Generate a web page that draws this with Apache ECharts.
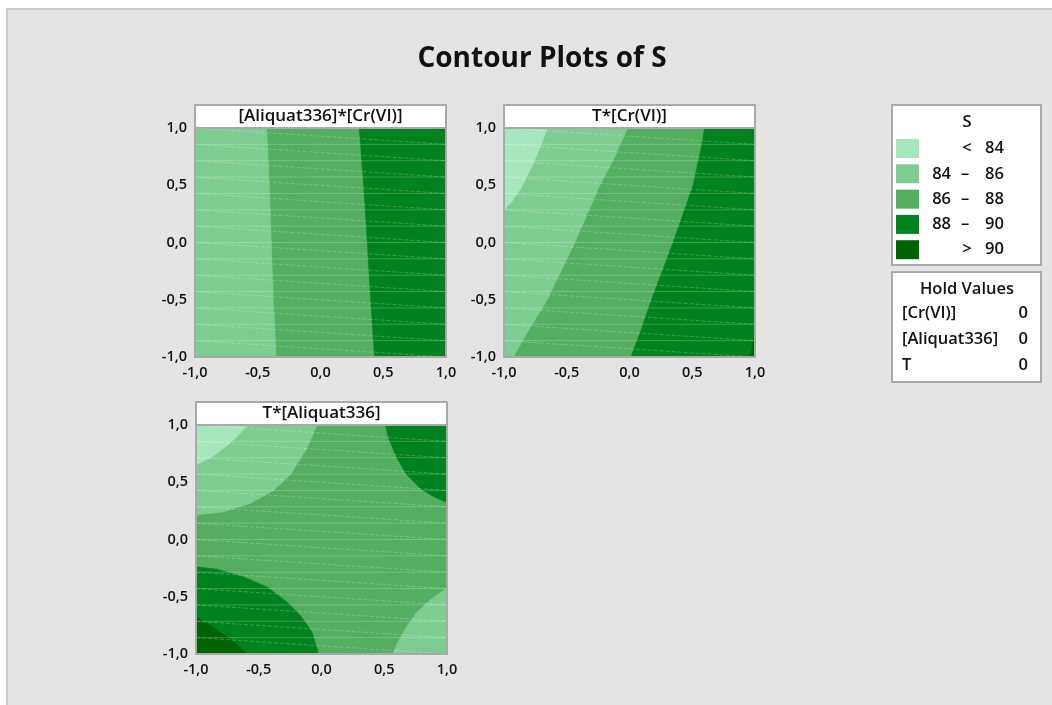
<!DOCTYPE html>
<html>
<head>
<meta charset="utf-8">
<title>Contour Plots of S</title>
<script src="https://cdn.jsdelivr.net/npm/echarts@6/dist/echarts.min.js"></script>
<style>
  html, body { margin: 0; padding: 0; background: #ffffff; }
  #chart { width: 1052px; height: 705px; }
</style>
</head>
<body>
<div id="chart"></div>
<script>
// ---- chart data -------------------------------------------------------
const chartTitle = 'Contour Plots of S';
const panelTitles = ['[Aliquat336]*[Cr(VI)]', 'T*[Cr(VI)]', 'T*[Aliquat336]'];
const tickValues = [-1, -0.5, 0, 0.5, 1];

// response levels of S (legend rows)
const levelLow  = ['', '84', '86', '88', ''];
const levelSign = ['<', '–', '–', '–', '>'];
const levelHigh = ['84', '86', '88', '90', '90'];

// hold values of the factors not on the axes
const holdFactors = ['[Cr(VI)]', '[Aliquat336]', 'T'];
const holdValues = [0, 0, 0];

// contour boundaries (x, y) per panel
// panel 1: [Aliquat336]*[Cr(VI)]
const p1_84_86 = [[-0.429, 1], [-0.408, 0.5], [-0.392, 0], [-0.376, -0.5], [-0.363, -0.75], [-0.355, -1]];
const p1_86_88 = [[0.309, 1], [0.344, 0.5], [0.373, 0], [0.400, -0.5], [0.418, -0.8], [0.432, -1]];
// panel 2: T*[Cr(VI)]
const p2_84 = [[-0.655, 1], [-0.70, 0.863], [-0.78, 0.66], [-0.859, 0.485], [-0.939, 0.354], [-1, 0.281]];
const p2_84_86 = [[-0.016, 1], [-0.117, 0.747], [-0.236, 0.5], [-0.435, 0], [-0.655, -0.5], [-0.82, -0.796], [-0.926, -1]];
const p2_86_88 = [[0.599, 1], [0.573, 0.834], [0.507, 0.5], [0.347, 0], [0.175, -0.5], [0.082, -0.796], [0.011, -1]];
const p2_90 = [[0.955, -1], [1, -0.80]];
// panel 3: T*[Aliquat336]
const p3_84 = [[-0.594, 1], [-0.634, 0.942], [-0.700, 0.869], [-0.780, 0.796], [-0.873, 0.723], [-1, 0.650]];
const p3_84_86_top = [[-0.036, 1], [-0.116, 0.796], [-0.248, 0.563], [-0.381, 0.431], [-0.567, 0.315], [-0.780, 0.242], [-1, 0.213]];
const p3_88_90_top = [[0.509, 1], [0.535, 0.883], [0.602, 0.708], [0.681, 0.563], [0.787, 0.446], [0.894, 0.373], [1, 0.324]];
const p3_88_90_bot = [[-1, -0.239], [-0.833, -0.259], [-0.620, -0.327], [-0.434, -0.414], [-0.275, -0.545], [-0.169, -0.662], [-0.076, -0.808], [-0.023, -1]];
const p3_90 = [[-1, -0.676], [-0.886, -0.749], [-0.753, -0.851], [-0.647, -0.939], [-0.594, -1]];
const p3_84_86_bot = [[1, -0.423], [0.880, -0.516], [0.761, -0.633], [0.668, -0.778], [0.602, -0.910], [0.567, -1]];

// ---- styling ----------------------------------------------------------
const levelColors = ['#a6e6bd', '#7ecd90', '#53ae60', '#00831f', '#006400'];
const FONT = '"Open Sans", "Noto Sans", sans-serif';
const FRAME = '#a9a9a9';
const TEXT = '#111111';

// plot rectangles of the three panels
const panels = [
  { left: 195, top: 128, width: 251, height: 229 },
  { left: 504, top: 128, width: 251, height: 229 },
  { left: 196, top: 425, width: 251, height: 229 }
];

// filled regions: [panel, level, polygon]
const TL = [-1, 1], TR = [1, 1], BL = [-1, -1], BR = [1, -1];
const regions = [
  [0, 2, [TL, TR, BR, BL]],
  [0, 1, [TL, ...p1_84_86, BL]],
  [0, 3, [...p1_86_88, BR, TR]],

  [1, 2, [TL, TR, BR, BL]],
  [1, 1, [TL, ...p2_84_86, BL]],
  [1, 0, [TL, ...p2_84]],
  [1, 3, [...p2_86_88, BR, TR]],
  [1, 4, [...p2_90, BR]],

  [2, 2, [TL, TR, BR, BL]],
  [2, 1, [TL, ...p3_84_86_top]],
  [2, 0, [TL, ...p3_84]],
  [2, 3, [...p3_88_90_top, TR]],
  [2, 3, [...p3_88_90_bot, BL]],
  [2, 4, [...p3_90, BL]],
  [2, 1, [...p3_84_86_bot, BR]]
];

const fmt = v => v.toFixed(1).replace('.', ',');

const axisCommon = {
  type: 'value', min: -1, max: 1, interval: 0.5,
  axisLine: { show: true, lineStyle: { color: FRAME, width: 2 } },
  axisTick: { show: true, length: 5, lineStyle: { color: FRAME, width: 2 } },
  splitLine: { show: false },
  axisLabel: { formatter: fmt, color: TEXT, fontFamily: FONT, fontSize: 14.5, fontWeight: 600, margin: 8 }
};

const grids = panels.map(p => ({ left: p.left, top: p.top, width: p.width, height: p.height, containLabel: false }));
const xAxes = panels.map((p, i) => Object.assign({}, axisCommon, { gridIndex: i }));
const yAxes = panels.map((p, i) => Object.assign({}, axisCommon, { gridIndex: i }));

const series = regions.map(([pi, lvl, poly]) => ({
  type: 'custom',
  xAxisIndex: pi, yAxisIndex: pi,
  clip: true,
  silent: true,
  data: [poly[0]],
  renderItem: (params, api) => ({
    type: 'polygon',
    shape: { points: poly.map(pt => api.coord(pt)) },
    style: { fill: levelColors[lvl], stroke: levelColors[lvl], lineWidth: 0.6 }
  })
}));

// faint triangulation mesh drawn over each filled panel
const MESH_ROWS = 14;
panels.forEach((p, pi) => {
  series.push({
    type: 'custom',
    xAxisIndex: pi, yAxisIndex: pi,
    clip: true, silent: true, z: 5,
    data: [[0, 0]],
    renderItem: (params, api) => {
      const children = [];
      for (let k = 0; k <= MESH_ROWS; k++) {
        const y0 = 1 - 2 * k / MESH_ROWS;
        const a = api.coord([-1, y0]), b = api.coord([1, y0]);
        children.push({ type: 'line', shape: { x1: a[0], y1: a[1], x2: b[0], y2: b[1] },
          style: { stroke: 'rgba(255,255,255,0.22)', lineWidth: 1 } });
        if (k < MESH_ROWS) {
          const y1 = 1 - 2 * (k + 1) / MESH_ROWS;
          const c = api.coord([1, y1]);
          children.push({ type: 'line', shape: { x1: a[0], y1: a[1], x2: c[0], y2: c[1] },
            style: { stroke: 'rgba(255,255,255,0.22)', lineWidth: 1, lineDash: [4, 2] } });
        }
      }
      return { type: 'group', children };
    }
  });
});

// ---- decorations: background, strip headers, frames, legend -----------
const graphic = [];
graphic.push({ type: 'rect', z: -100, silent: true,
  shape: { x: 7, y: 9, width: 1100, height: 760 },
  style: { fill: '#e4e4e4', stroke: '#cbcbcb', lineWidth: 2 } });

const HFONT = '600 17px ' + FONT;
panels.forEach((p, i) => {
  graphic.push({ type: 'rect', z: 50, silent: true,
    shape: { x: p.left, y: p.top - 23, width: p.width, height: 23 },
    style: { fill: '#ffffff', stroke: FRAME, lineWidth: 2 } });
  graphic.push({ type: 'text', z: 51, silent: true,
    x: p.left + p.width / 2, y: p.top - 11.5,
    style: { text: panelTitles[i], fill: TEXT, font: HFONT, align: 'center', verticalAlign: 'middle' } });
  graphic.push({ type: 'rect', z: 50, silent: true,
    shape: { x: p.left, y: p.top, width: p.width, height: p.height },
    style: { fill: 'none', stroke: FRAME, lineWidth: 2 } });
});

// legend box
const LX = 892, LY = 105, LW = 149;
const LFONT = '600 16.5px ' + FONT;
graphic.push({ type: 'rect', z: 50, silent: true,
  shape: { x: LX, y: LY, width: LW, height: 160 },
  style: { fill: '#ffffff', stroke: FRAME, lineWidth: 2 } });
graphic.push({ type: 'text', z: 51, silent: true, x: 967, y: 122,
  style: { text: 'S', fill: TEXT, font: LFONT, align: 'center', verticalAlign: 'middle' } });
levelColors.forEach((c, i) => {
  const top = 139 + i * 25.3;
  const cy = top + 9.5;
  graphic.push({ type: 'rect', z: 51, silent: true,
    shape: { x: 896, y: top, width: 23, height: 19 }, style: { fill: c } });
  const txt = (t, x, align) => graphic.push({ type: 'text', z: 51, silent: true, x, y: cy,
    style: { text: t, fill: TEXT, font: LFONT, align, verticalAlign: 'middle' } });
  if (levelLow[i]) txt(levelLow[i], 951, 'right');
  txt(levelSign[i], levelLow[i] ? 965 : 967, 'center');
  txt(levelHigh[i], 985, 'left');
});

// hold values box
graphic.push({ type: 'rect', z: 50, silent: true,
  shape: { x: LX, y: 272, width: LW, height: 110 },
  style: { fill: '#ffffff', stroke: FRAME, lineWidth: 2 } });
graphic.push({ type: 'text', z: 51, silent: true, x: 967, y: 289,
  style: { text: 'Hold Values', fill: TEXT, font: LFONT, align: 'center', verticalAlign: 'middle' } });
holdFactors.forEach((f, i) => {
  const cy = 313 + i * 26;
  graphic.push({ type: 'text', z: 51, silent: true, x: 902, y: cy,
    style: { text: f, fill: TEXT, font: LFONT, align: 'left', verticalAlign: 'middle' } });
  graphic.push({ type: 'text', z: 51, silent: true, x: 1028, y: cy,
    style: { text: String(holdValues[i]), fill: TEXT, font: LFONT, align: 'right', verticalAlign: 'middle' } });
});

function draw() {
  const chart = echarts.init(document.getElementById('chart'), null, { renderer: 'canvas' });
  chart.setOption({
    backgroundColor: '#ffffff',
    animation: false,
    title: {
      text: chartTitle, left: 537, top: 40, textAlign: 'center',
      textStyle: { fontFamily: FONT, fontSize: 28, fontWeight: 'bold', color: TEXT }
    },
    grid: grids,
    xAxis: xAxes,
    yAxis: yAxes,
    series,
    graphic
  });
}

// make sure the semibold and bold faces are ready before the canvas paints
Promise.all([
  document.fonts.load('600 16px "Open Sans"'),
  document.fonts.load('700 28px "Open Sans"')
]).then(draw, draw);
</script>
</body>
</html>
